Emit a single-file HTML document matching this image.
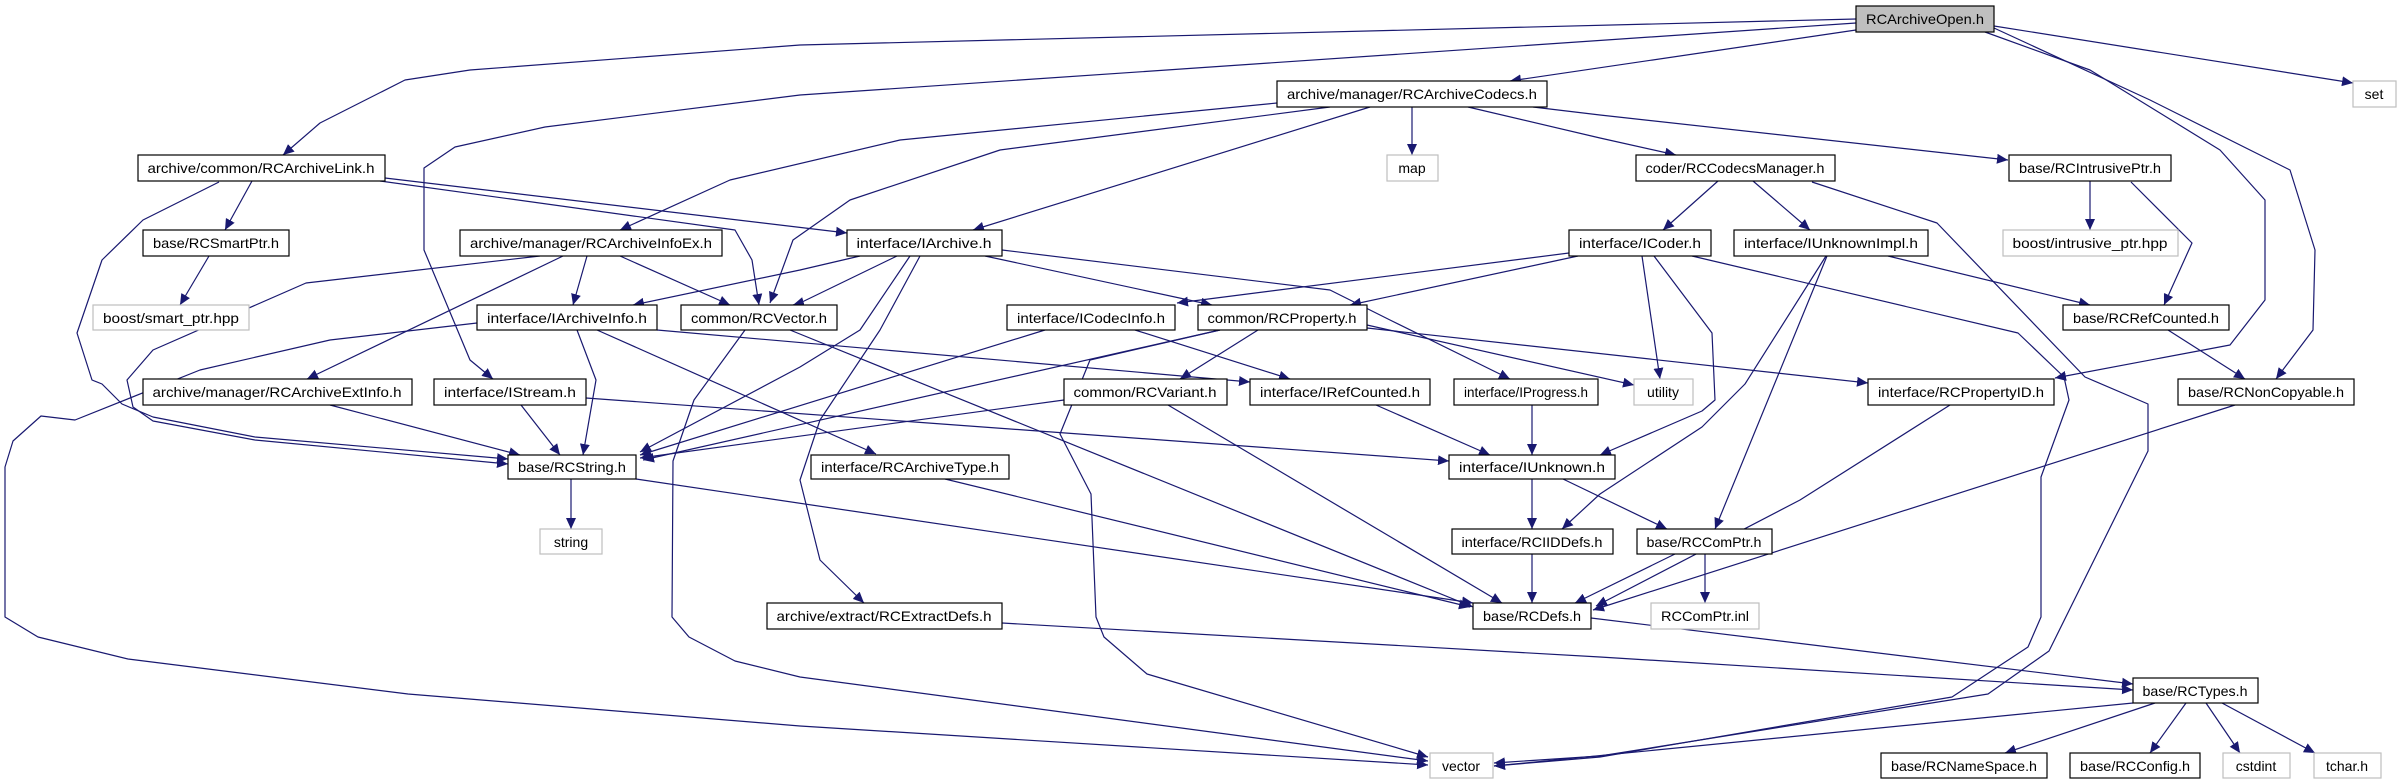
<!DOCTYPE html>
<html><head><meta charset="utf-8"><style>
html,body{margin:0;padding:0;background:#fff;}
svg{display:block;}
text{font-family:"Liberation Sans",sans-serif;font-size:14px;fill:#000;}
.e{fill:none;stroke:#191970;stroke-width:1.2;marker-end:url(#a);stroke-linejoin:round;}
.n{fill:#fff;stroke:#000;stroke-width:1.2;}
.g{fill:#fff;stroke:#bfbfbf;stroke-width:1.2;}
</style></head><body>
<svg width="2404" height="784" viewBox="0 0 2404 784" xmlns="http://www.w3.org/2000/svg">
<defs><marker id="a" markerUnits="userSpaceOnUse" markerWidth="12" markerHeight="10" refX="11" refY="5" orient="auto"><path d="M0,0 L11,5 L0,10 z" fill="#191970"/></marker></defs>
<g>
<!-- edges -->
<path class="e" d="M1856,19 L800,45 L470,70 L405,80 L320,123 L283,155"/>
<path class="e" d="M1856,23 L800,95 L545,127 L455,147 L424,168 L424,250 L470,360 L493,379"/>
<path class="e" d="M1856,30 L1510,81"/>
<path class="e" d="M1994,26 L2353,83"/>
<path class="e" d="M1985,32 L2090,70 L2220,150 L2265,200 L2265,300 L2230,345 L2055,378"/>
<path class="e" d="M1994,28 L2150,100 L2290,170 L2315,250 L2313,330 L2276,379"/>
<path class="e" d="M1412,107 L1412,155"/>
<path class="e" d="M1468,107 L1600,138 L1676,155"/>
<path class="e" d="M1533,107 L1600,115 L2008,160"/>
<path class="e" d="M1277,103 L900,140 L730,180 L620,230"/>
<path class="e" d="M1370,107 L973,230"/>
<path class="e" d="M1330,107 L1000,150 L850,200 L793,240 L770,303"/>
<path class="e" d="M252,181 L225,230"/>
<path class="e" d="M219,182 L143,220 L102,260 L77,333 L92,380 L102,384 L122,404 L153,417 L255,437 L508,459"/>
<path class="e" d="M540,256 L306,283 L153,350 L127,380 L133,407 L153,421 L255,440 L508,464"/>
<path class="e" d="M385,178 L847,233"/>
<path class="e" d="M380,181 L735,230 L752,260 L759,305"/>
<path class="e" d="M209,256 L180,305"/>
<path class="e" d="M587,256 L573,305"/>
<path class="e" d="M620,256 L730,305"/>
<path class="e" d="M563,256 L307,379"/>
<path class="e" d="M860,256 L800,270 L633,305"/>
<path class="e" d="M897,256 L800,303 L793,305"/>
<path class="e" d="M985,256 L1212,305"/>
<path class="e" d="M1002,250 L1330,290 L1390,320 L1510,379"/>
<path class="e" d="M920,256 L880,330 L820,420 L800,480 L820,560 L864,603"/>
<path class="e" d="M910,256 L860,330 L800,367 L640,452"/>
<path class="e" d="M1045,330 L640,455"/>
<path class="e" d="M1135,330 L1290,379"/>
<path class="e" d="M1258,330 L1180,379"/>
<path class="e" d="M1220,330 L643,460"/>
<path class="e" d="M1220,330 L1090,360 L1060,434 L1091,494 L1096,617 L1104,637 L1147,674 L1428,757"/>
<path class="e" d="M1367,325 L1634,385"/>
<path class="e" d="M1367,328 L1868,383"/>
<path class="e" d="M597,330 L876,454"/>
<path class="e" d="M657,330 L1250,382"/>
<path class="e" d="M577,330 L596,380 L583,455"/>
<path class="e" d="M477,323 L330,340 L200,370 L75,420 L41,416 L13,441 L5,467 L5,617 L38,637 L128,659 L408,694 L800,726 L1428,765"/>
<path class="e" d="M745,330 L694,400 L673,461 L672,617 L689,637 L735,661 L800,677 L1428,761"/>
<path class="e" d="M790,330 L1473,607"/>
<path class="e" d="M521,405 L560,455"/>
<path class="e" d="M586,398 L1449,461"/>
<path class="e" d="M571,479 L571,529"/>
<path class="e" d="M636,479 L1473,603"/>
<path class="e" d="M330,405 L520,455"/>
<path class="e" d="M1064,400 L640,458"/>
<path class="e" d="M1168,405 L1502,603"/>
<path class="e" d="M945,479 L1470,607"/>
<path class="e" d="M1376,405 L1490,455"/>
<path class="e" d="M1532,405 L1532,455"/>
<path class="e" d="M1654,256 L1712,333 L1715,400 L1702,411 L1600,455"/>
<path class="e" d="M1642,256 L1660,379"/>
<path class="e" d="M1569,253 L1177,303"/>
<path class="e" d="M1578,256 L1350,305"/>
<path class="e" d="M1692,256 L2018,333 L2064,377 L2069,400 L2041,477 L2041,617 L2028,647 L1952,697 L1600,757 L1494,766"/>
<path class="e" d="M1718,181 L1663,230"/>
<path class="e" d="M1753,181 L1810,230"/>
<path class="e" d="M1812,182 L1937,223 L2085,377 L2148,404 L2148,451 L2049,651 L1988,694 L1600,756 L1494,763"/>
<path class="e" d="M1888,256 L2090,305"/>
<path class="e" d="M1826,256 L1745,384 L1702,427 L1600,494 L1562,529"/>
<path class="e" d="M1827,256 L1715,529"/>
<path class="e" d="M2090,181 L2090,230"/>
<path class="e" d="M2131,182 L2192,243 L2164,305"/>
<path class="e" d="M2168,330 L2245,379"/>
<path class="e" d="M2235,405 L1593,610"/>
<path class="e" d="M1950,405 L1800,500 L1596,606"/>
<path class="e" d="M1532,479 L1532,529"/>
<path class="e" d="M1563,479 L1667,529"/>
<path class="e" d="M1532,554 L1532,603"/>
<path class="e" d="M1675,554 L1575,603"/>
<path class="e" d="M1705,554 L1705,603"/>
<path class="e" d="M1591,618 L2133,684"/>
<path class="e" d="M1002,623 L1600,657 L2133,690"/>
<path class="e" d="M2133,703 L1494,766"/>
<path class="e" d="M2155,703 L2005,753"/>
<path class="e" d="M2186,703 L2150,753"/>
<path class="e" d="M2206,703 L2240,753"/>
<path class="e" d="M2222,703 L2315,753"/>
</g>
<g>
<!-- nodes: x,y,w,h -->
<rect x="1856" y="6" width="138" height="26" fill="#bfbfbf" stroke="#000" stroke-width="1.2"/><text x="1925" y="24" text-anchor="middle" textLength="118" lengthAdjust="spacingAndGlyphs">RCArchiveOpen.h</text>
<rect class="g" x="2353" y="81" width="43" height="26"/><text x="2374" y="99" text-anchor="middle">set</text>
<rect class="n" x="1277" y="81" width="270" height="26"/><text x="1412" y="99" text-anchor="middle" textLength="250" lengthAdjust="spacingAndGlyphs">archive/manager/RCArchiveCodecs.h</text>
<rect class="n" x="138" y="155" width="247" height="26"/><text x="261" y="173" text-anchor="middle" textLength="227" lengthAdjust="spacingAndGlyphs">archive/common/RCArchiveLink.h</text>
<rect class="g" x="1387" y="155" width="51" height="26"/><text x="1412" y="173" text-anchor="middle">map</text>
<rect class="n" x="1636" y="155" width="199" height="26"/><text x="1735" y="173" text-anchor="middle" textLength="179" lengthAdjust="spacingAndGlyphs">coder/RCCodecsManager.h</text>
<rect class="n" x="2009" y="155" width="162" height="26"/><text x="2090" y="173" text-anchor="middle" textLength="142" lengthAdjust="spacingAndGlyphs">base/RCIntrusivePtr.h</text>
<rect class="n" x="143" y="230" width="146" height="26"/><text x="216" y="248" text-anchor="middle" textLength="126" lengthAdjust="spacingAndGlyphs">base/RCSmartPtr.h</text>
<rect class="n" x="460" y="230" width="262" height="26"/><text x="591" y="248" text-anchor="middle" textLength="242" lengthAdjust="spacingAndGlyphs">archive/manager/RCArchiveInfoEx.h</text>
<rect class="n" x="847" y="230" width="155" height="26"/><text x="924" y="248" text-anchor="middle" textLength="135" lengthAdjust="spacingAndGlyphs">interface/IArchive.h</text>
<rect class="n" x="1569" y="230" width="142" height="26"/><text x="1640" y="248" text-anchor="middle" textLength="122" lengthAdjust="spacingAndGlyphs">interface/ICoder.h</text>
<rect class="n" x="1734" y="230" width="194" height="26"/><text x="1831" y="248" text-anchor="middle" textLength="174" lengthAdjust="spacingAndGlyphs">interface/IUnknownImpl.h</text>
<rect class="g" x="2003" y="230" width="175" height="26"/><text x="2090" y="248" text-anchor="middle" textLength="155" lengthAdjust="spacingAndGlyphs">boost/intrusive_ptr.hpp</text>
<rect class="g" x="93" y="305" width="156" height="25"/><text x="171" y="323" text-anchor="middle" textLength="136" lengthAdjust="spacingAndGlyphs">boost/smart_ptr.hpp</text>
<rect class="n" x="477" y="305" width="180" height="25"/><text x="567" y="323" text-anchor="middle" textLength="160" lengthAdjust="spacingAndGlyphs">interface/IArchiveInfo.h</text>
<rect class="n" x="681" y="305" width="156" height="25"/><text x="759" y="323" text-anchor="middle" textLength="136" lengthAdjust="spacingAndGlyphs">common/RCVector.h</text>
<rect class="n" x="1007" y="305" width="168" height="25"/><text x="1091" y="323" text-anchor="middle" textLength="148" lengthAdjust="spacingAndGlyphs">interface/ICodecInfo.h</text>
<rect class="n" x="1198" y="305" width="169" height="25"/><text x="1282" y="323" text-anchor="middle" textLength="149" lengthAdjust="spacingAndGlyphs">common/RCProperty.h</text>
<rect class="n" x="2063" y="305" width="166" height="25"/><text x="2146" y="323" text-anchor="middle" textLength="146" lengthAdjust="spacingAndGlyphs">base/RCRefCounted.h</text>
<rect class="n" x="143" y="379" width="269" height="26"/><text x="277" y="397" text-anchor="middle" textLength="249" lengthAdjust="spacingAndGlyphs">archive/manager/RCArchiveExtInfo.h</text>
<rect class="n" x="434" y="379" width="152" height="26"/><text x="510" y="397" text-anchor="middle" textLength="132" lengthAdjust="spacingAndGlyphs">interface/IStream.h</text>
<rect class="n" x="1064" y="379" width="163" height="26"/><text x="1145" y="397" text-anchor="middle" textLength="143" lengthAdjust="spacingAndGlyphs">common/RCVariant.h</text>
<rect class="n" x="1250" y="379" width="180" height="26"/><text x="1340" y="397" text-anchor="middle" textLength="160" lengthAdjust="spacingAndGlyphs">interface/IRefCounted.h</text>
<rect class="n" x="1454" y="379" width="144" height="26"/><text x="1526" y="397" text-anchor="middle" textLength="124" lengthAdjust="spacingAndGlyphs">interface/IProgress.h</text>
<rect class="g" x="1634" y="379" width="59" height="26"/><text x="1663" y="397" text-anchor="middle">utility</text>
<rect class="n" x="1868" y="379" width="186" height="26"/><text x="1961" y="397" text-anchor="middle" textLength="166" lengthAdjust="spacingAndGlyphs">interface/RCPropertyID.h</text>
<rect class="n" x="2178" y="379" width="176" height="26"/><text x="2266" y="397" text-anchor="middle" textLength="156" lengthAdjust="spacingAndGlyphs">base/RCNonCopyable.h</text>
<rect class="n" x="508" y="455" width="128" height="24"/><text x="572" y="472" text-anchor="middle" textLength="108" lengthAdjust="spacingAndGlyphs">base/RCString.h</text>
<rect class="n" x="811" y="455" width="198" height="24"/><text x="910" y="472" text-anchor="middle" textLength="178" lengthAdjust="spacingAndGlyphs">interface/RCArchiveType.h</text>
<rect class="n" x="1449" y="455" width="166" height="24"/><text x="1532" y="472" text-anchor="middle" textLength="146" lengthAdjust="spacingAndGlyphs">interface/IUnknown.h</text>
<rect class="g" x="540" y="529" width="62" height="25"/><text x="571" y="547" text-anchor="middle">string</text>
<rect class="n" x="1452" y="529" width="161" height="25"/><text x="1532" y="547" text-anchor="middle" textLength="141" lengthAdjust="spacingAndGlyphs">interface/RCIIDDefs.h</text>
<rect class="n" x="1637" y="529" width="135" height="25"/><text x="1704" y="547" text-anchor="middle" textLength="115" lengthAdjust="spacingAndGlyphs">base/RCComPtr.h</text>
<rect class="n" x="767" y="603" width="235" height="26"/><text x="884" y="621" text-anchor="middle" textLength="215" lengthAdjust="spacingAndGlyphs">archive/extract/RCExtractDefs.h</text>
<rect class="n" x="1473" y="603" width="118" height="26"/><text x="1532" y="621" text-anchor="middle" textLength="98" lengthAdjust="spacingAndGlyphs">base/RCDefs.h</text>
<rect class="g" x="1651" y="603" width="108" height="26"/><text x="1705" y="621" text-anchor="middle" textLength="88" lengthAdjust="spacingAndGlyphs">RCComPtr.inl</text>
<rect class="n" x="2133" y="678" width="125" height="25"/><text x="2195" y="696" text-anchor="middle" textLength="105" lengthAdjust="spacingAndGlyphs">base/RCTypes.h</text>
<rect class="g" x="1430" y="753" width="63" height="25"/><text x="1461" y="771" text-anchor="middle">vector</text>
<rect class="n" x="1881" y="753" width="166" height="25"/><text x="1964" y="771" text-anchor="middle" textLength="146" lengthAdjust="spacingAndGlyphs">base/RCNameSpace.h</text>
<rect class="n" x="2070" y="753" width="130" height="25"/><text x="2135" y="771" text-anchor="middle" textLength="110" lengthAdjust="spacingAndGlyphs">base/RCConfig.h</text>
<rect class="g" x="2223" y="753" width="67" height="25"/><text x="2256" y="771" text-anchor="middle">cstdint</text>
<rect class="g" x="2314" y="753" width="67" height="25"/><text x="2347" y="771" text-anchor="middle">tchar.h</text>
</g>
</svg>
</body></html>
